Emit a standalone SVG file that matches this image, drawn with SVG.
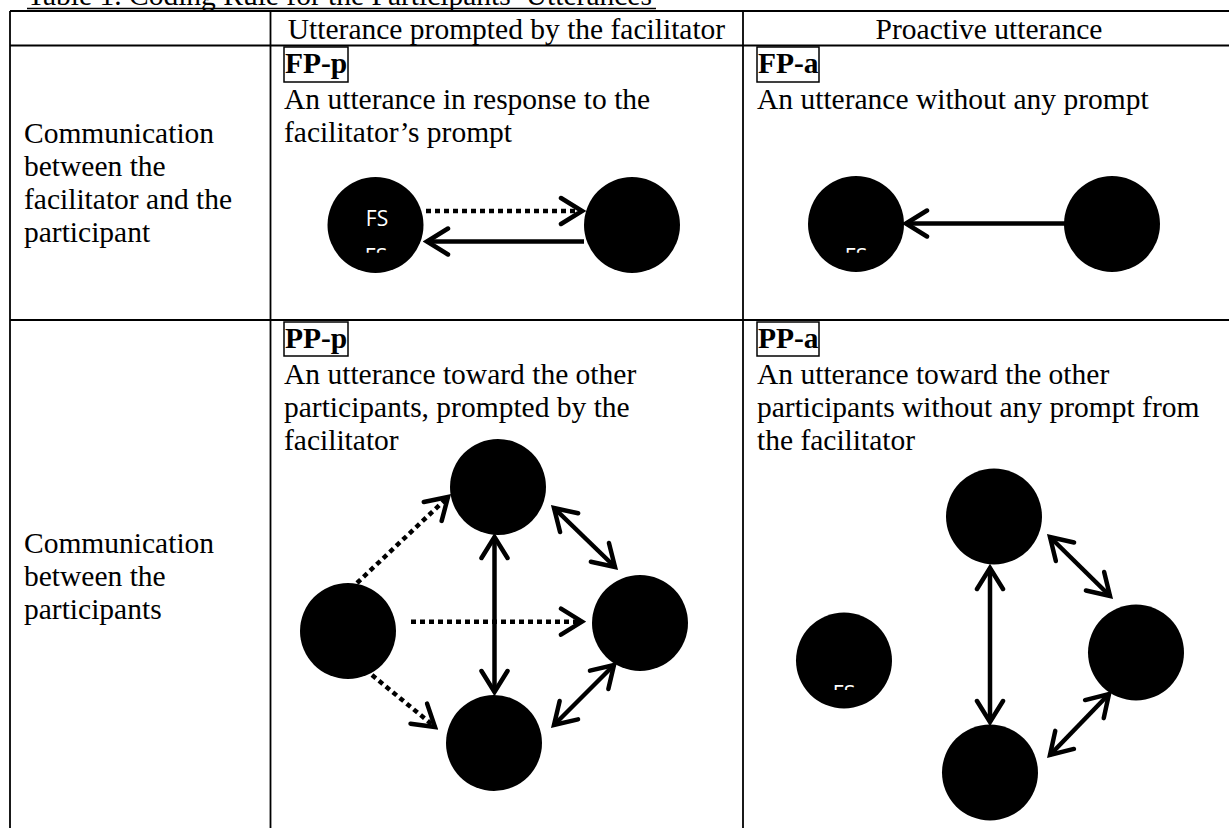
<svg xmlns="http://www.w3.org/2000/svg" width="1229" height="828" viewBox="0 0 1229 828">
<style>
.t{font-family:"Liberation Serif","Times New Roman",serif;font-size:29.5px;fill:#000}
.b{font-weight:bold}
.grid{stroke:#000;stroke-width:1.8;fill:none}
.box{stroke:#000;stroke-width:1.5;fill:none}
.node{fill:#000}
.fs{font-family:"Open Sans","Noto Sans",sans-serif;font-size:21px;fill:#fff;text-anchor:middle}
.c{stroke:#000;stroke-width:4.5;fill:none}
.d{stroke-dasharray:5 4}
</style>
<defs>
<marker id="ah" markerUnits="userSpaceOnUse" viewBox="0 0 28 32" markerWidth="28" markerHeight="32" refX="24" refY="16" orient="auto-start-reverse">
<path d="M3,3 L24,16 L3,29" fill="none" stroke="#000" stroke-width="4.5" stroke-linecap="round" stroke-linejoin="miter"/>
</marker>
<clipPath id="clipA"><rect x="800" y="230" width="120" height="22.7"/></clipPath>
<clipPath id="clipB"><rect x="320" y="230" width="120" height="22.7"/></clipPath>
<clipPath id="clipC"><rect x="790" y="670" width="120" height="20"/></clipPath>
</defs>
<rect width="1229" height="828" fill="#fff"/>

<g id="title">
<text class="t" x="27" y="5">Table 1. Coding Rule for the Participants’ Utterances</text>
<line x1="27" y1="8.5" x2="656" y2="8.5" stroke="#000" stroke-width="1.5"/>
</g>

<g id="table">
<line class="grid" x1="10" y1="11" x2="1229" y2="11"/>
<line class="grid" x1="10" y1="45.5" x2="1229" y2="45.5"/>
<line class="grid" x1="10" y1="320" x2="1229" y2="320"/>
<line class="grid" x1="10" y1="11" x2="10" y2="828"/>
<line class="grid" x1="270.5" y1="11" x2="270.5" y2="828"/>
<line class="grid" x1="743" y1="11" x2="743" y2="828"/>
<text class="t" x="506.5" y="39" text-anchor="middle">Utterance prompted by the facilitator</text>
<text class="t" x="989" y="39" text-anchor="middle">Proactive utterance</text>
<text class="t" x="24" y="143">Communication</text>
<text class="t" x="24" y="176">between the</text>
<text class="t" x="24" y="209">facilitator and the</text>
<text class="t" x="24" y="242">participant</text>
<text class="t" x="24" y="553">Communication</text>
<text class="t" x="24" y="586">between the</text>
<text class="t" x="24" y="619">participants</text>
</g>

<g id="cell-fp-p">
<rect class="box" x="284" y="47" width="64" height="35"/>
<text class="t b" x="285" y="73">FP-p</text>
<text class="t" x="284" y="108.5">An utterance in response to the</text>
<text class="t" x="284" y="141.5">facilitator’s prompt</text>
</g>
<g id="cell-fp-a">
<rect class="box" x="757" y="47" width="62" height="35"/>
<text class="t b" x="758" y="73">FP-a</text>
<text class="t" x="757" y="108.5">An utterance without any prompt</text>
</g>
<g id="cell-pp-p">
<rect class="box" x="284" y="322" width="64" height="34"/>
<text class="t b" x="285" y="348">PP-p</text>
<text class="t" x="284" y="384">An utterance toward the other</text>
<text class="t" x="284" y="417">participants, prompted by the</text>
<text class="t" x="284" y="450">facilitator</text>
</g>
<g id="cell-pp-a">
<rect class="box" x="757" y="322" width="62" height="34"/>
<text class="t b" x="758" y="348">PP-a</text>
<text class="t" x="757" y="384">An utterance toward the other</text>
<text class="t" x="757" y="417">participants without any prompt from</text>
<text class="t" x="757" y="450">the facilitator</text>
</g>

<g id="connectors">
<line class="c d" x1="426" y1="211" x2="582" y2="211" marker-end="url(#ah)"/>
<line class="c" x1="584" y1="241.5" x2="427" y2="241.5" marker-end="url(#ah)"/>
<line class="c" x1="1065" y1="223.5" x2="906" y2="223.5" marker-end="url(#ah)"/>
<line class="c d" x1="357" y1="583" x2="448" y2="497" marker-end="url(#ah)"/>
<line class="c d" x1="411" y1="621.7" x2="582" y2="621.7" marker-end="url(#ah)"/>
<line class="c d" x1="372" y1="675" x2="435" y2="727" marker-end="url(#ah)"/>
<line class="c" x1="494.5" y1="537" x2="494.5" y2="692" marker-start="url(#ah)" marker-end="url(#ah)"/>
<line class="c" x1="554" y1="508" x2="615" y2="567" marker-start="url(#ah)" marker-end="url(#ah)"/>
<line class="c" x1="614" y1="665" x2="554" y2="725" marker-start="url(#ah)" marker-end="url(#ah)"/>
<line class="c" x1="990" y1="568" x2="990" y2="722" marker-start="url(#ah)" marker-end="url(#ah)"/>
<line class="c" x1="1050" y1="537" x2="1110" y2="596" marker-start="url(#ah)" marker-end="url(#ah)"/>
<line class="c" x1="1109" y1="694" x2="1050" y2="755" marker-start="url(#ah)" marker-end="url(#ah)"/>
</g>

<g id="fp-p-facilitator">
<circle class="node" cx="375.5" cy="225" r="48"/>
<text class="fs" x="377" y="226">FS</text>
<text class="fs" x="376" y="263.5" clip-path="url(#clipB)">FS</text>
</g>
<g id="fp-p-participant"><circle class="node" cx="632" cy="225" r="48"/></g>
<g id="fp-a-facilitator">
<circle class="node" cx="856" cy="224" r="48"/>
<text class="fs" x="856" y="263.5" clip-path="url(#clipA)">FS</text>
</g>
<g id="fp-a-participant"><circle class="node" cx="1112" cy="224" r="48"/></g>

<g id="pp-p-facilitator"><circle class="node" cx="348" cy="631" r="48"/></g>
<g id="pp-p-top"><circle class="node" cx="498" cy="487" r="48"/></g>
<g id="pp-p-right"><circle class="node" cx="640" cy="623" r="48"/></g>
<g id="pp-p-bottom"><circle class="node" cx="494" cy="743" r="48"/></g>

<g id="pp-a-facilitator">
<circle class="node" cx="844" cy="660.5" r="48"/>
<text class="fs" x="844" y="700.5" clip-path="url(#clipC)">FS</text>
</g>
<g id="pp-a-top"><circle class="node" cx="994" cy="516.5" r="48"/></g>
<g id="pp-a-right"><circle class="node" cx="1136" cy="652.5" r="48"/></g>
<g id="pp-a-bottom"><circle class="node" cx="990" cy="772.5" r="48"/></g>
</svg>
